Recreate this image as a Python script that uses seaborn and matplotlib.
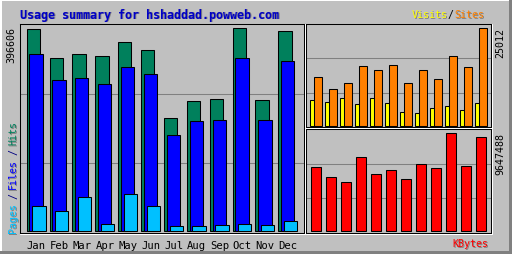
import matplotlib
matplotlib.use("Agg")
import matplotlib.pyplot as plt
import seaborn as sns
import pandas as pd
import numpy as np
from matplotlib.patches import Rectangle
from matplotlib.lines import Line2D

months = ["Jan", "Feb", "Mar", "Apr", "May", "Jun", "Jul", "Aug", "Sep", "Oct", "Nov", "Dec"]
hits = [394600, 338000, 345900, 341900, 369300, 353700, 221000, 254100, 258000, 396606, 256700, 390800]
files = [346400, 295700, 299600, 287900, 321100, 307400, 188300, 215700, 217600, 338600, 217600, 332800]
pages = [49200, 39400, 66800, 14100, 72600, 49200, 10100, 10100, 12100, 14100, 12100, 19900]
visits = [6712, 6125, 7146, 5615, 7146, 5870, 3573, 3318, 4594, 5104, 4083, 5870]
sites = [12506, 9443, 10974, 15313, 14292, 15568, 10974, 14292, 11995, 17866, 15058, 25012]
kbytes = [6300000, 5316000, 4824000, 7285000, 5611000, 6005000, 5119000, 6596000, 6202000, 9647488, 6399000, 9254000]
title = "Usage summary for hshaddad.powweb.com"

W, H = 512, 255
BG = "#c0c0c0"
DK = "#808080"
C_HITS, C_FILES, C_PAGES = "#00805c", "#0000ff", "#00c0ff"
C_VISITS, C_SITES, C_KB = "#ffff00", "#ff8000", "#ff0000"

sns.set_theme(style="white")
plt.rcParams["font.family"] = ["DejaVu Sans Mono", "DejaVu Sans"]

fig = plt.figure(figsize=(W / 100, H / 100), dpi=100, facecolor=BG)


def fx(x):
    return x / W


def fy(y):
    return 1 - y / H


def add_axes(x0, y0, x1, y1):
    ax = fig.add_axes([fx(x0), fy(y1), (x1 - x0) / W, (y1 - y0) / H])
    ax.set_facecolor(BG)
    for s in ax.spines.values():
        s.set_color("black")
        s.set_linewidth(0.75)
    fig.add_artist(Line2D([fx(x0), fx(x1 + 1)], [fy(y1 + 1), fy(y1 + 1)], color="white", lw=0.75))
    fig.add_artist(Line2D([fx(x1 + 1), fx(x1 + 1)], [fy(y0), fy(y1 + 1)], color="white", lw=0.75))
    for f in (1 / 3, 2 / 3):
        ax.plot([0, 1], [f, f], transform=ax.transAxes, color=DK, lw=0.75, zorder=0)
    return ax


def bars(ax, xs, vals, color, width):
    df = pd.DataFrame({"x": xs, "v": vals})
    sns.barplot(data=df, x="x", y="v", native_scale=True, width=width, color=color,
                edgecolor="black", linewidth=0.75, saturation=1, ax=ax, zorder=2)


idx = np.arange(len(months))

axL = add_axes(20, 25, 304, 234)
bars(axL, idx, hits, C_HITS, 0.58)
bars(axL, idx + 0.122, files, C_FILES, 0.58)
bars(axL, idx + 0.244, pages, C_PAGES, 0.58)
axL.set_xlim(-0.581, 11.83)
axL.set_ylim(-2928, 405000)

axT = add_axes(306, 25, 491, 128)
bars(axT, idx, visits, C_VISITS, 0.513)
bars(axT, idx + 0.247, sites, C_SITES, 0.513)
axT.set_xlim(-0.543, 11.79)
axT.set_ylim(-179, 26107)

axB = add_axes(306, 130, 491, 234)
bars(axB, idx, kbytes, C_KB, 0.627)
axB.set_xlim(-0.667, 11.667)
axB.set_ylim(-167000, 10071000)

for ax in (axL, axT, axB):
    ax.set_xlabel("")
    ax.set_ylabel("")
    ax.set_yticks([])
    ax.set_xticks([])

axL.set_xticks(idx + 0.13)
axL.set_xticklabels(months, fontsize=7.6, color="black")
axL.tick_params(axis="x", length=0, pad=5)


def stxt(x, y, s, color, shadow=True, **kw):
    if shadow:
        fig.text(fx(x + 1), fy(y + 1), s, color=DK, **kw)
    fig.text(fx(x), fy(y), s, color=color, **kw)


stxt(20, 15, title, "#0000c8", fontsize=8.4, fontweight="bold", va="center", ha="left")

cw = 6.0
x0 = 412
fs = 7.2
stxt(x0, 15, "Visits", C_VISITS, fontsize=fs, va="center", ha="left")
stxt(x0 + 6 * cw, 15, "/", "black", shadow=False, fontsize=fs, va="center", ha="left")
stxt(x0 + 7 * cw, 15, "Sites", C_SITES, fontsize=fs, va="center", ha="left")

stxt(488, 244, "KBytes", C_KB, fontsize=fs, va="center", ha="right")

yb = 233
lx = 13
parts = [("Pages", C_PAGES), ("/", "#000080"), ("Files", C_FILES), ("/", "#000080"), ("Hits", C_HITS)]
for s, c in parts:
    stxt(lx, yb, s, c, shadow=(s != "/"), fontsize=fs, rotation=90, va="bottom", ha="center")
    yb -= len(s) * cw + 4

fig.text(fx(11), fy(27), f"{max(hits)}", fontsize=fs, rotation=90, va="top", ha="center", color="black")
fig.text(fx(500), fy(28), f"{max(sites)}", fontsize=fs, rotation=90, va="top", ha="center", color="black")
fig.text(fx(500), fy(133), f"{max(kbytes)}", fontsize=fs, rotation=90, va="top", ha="center", color="black")

fig.add_artist(Rectangle((0, 0), fx(2), 1, transform=fig.transFigure, color="white", lw=0))
fig.add_artist(Rectangle((0, fy(2)), 1, fy(0) - fy(2), transform=fig.transFigure, color="white", lw=0))
fig.add_artist(Rectangle((fx(W - 3), 0), fx(3), 1, transform=fig.transFigure, color=DK, lw=0))
fig.add_artist(Rectangle((0, 0), 1, 3 / H, transform=fig.transFigure, color=DK, lw=0))

fig.savefig("out.png", dpi=100, facecolor=BG)
